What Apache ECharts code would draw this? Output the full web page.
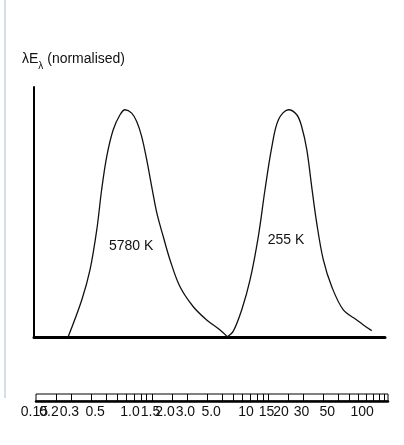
<!DOCTYPE html>
<html><head><meta charset="utf-8">
<script src="https://cdn.jsdelivr.net/npm/echarts@6/dist/echarts.min.js"></script>
<style>html,body{margin:0;padding:0;background:#fff}#c{width:404px;height:445px}</style>
</head><body><div id="c"></div>
<script>
// Wavelength in micrometres, lambda*E_lambda normalised to the peak
const sunWavelength = [0.189,0.248,0.292,0.334,0.368,0.407,0.463,0.530,0.585,0.668,0.738,0.815,0.900,0.994,1.10,1.25,1.43,1.74,2.27,2.96,3.86,4.41];
const sunValue = [0,0.163,0.295,0.471,0.648,0.794,0.912,0.978,1.0,0.985,0.948,0.882,0.780,0.662,0.546,0.442,0.339,0.222,0.133,0.075,0.031,0.004];
const earthWavelength = [4.41,5.02,5.93,7.00,8.25,9.42,10.8,12.3,15.0,17.7,19.5,21.6,23.8,26.3,30.0,35.4,44.6,58.2,66.4,78.4];
const earthValue = [0,0.026,0.119,0.251,0.442,0.648,0.838,0.956,1.0,0.978,0.926,0.824,0.662,0.501,0.339,0.222,0.119,0.075,0.053,0.028];
const tickWavelengths = [0.1,0.15,0.2,0.3,0.4,0.5,0.6,0.7,0.8,0.9,1,1.5,2,3,4,5,6,7,8,9,10,15,20,30,40,50,60,70,80,90,100];
const labelWavelengths = [0.1,0.15,0.2,0.3,0.5,1,1.5,2,3,5,10,15,20,30,50,100];
const labelTexts = ['0.1','0.15','0.2','0.3','0.5','1.0','1.5','2.0','3.0','5.0','10','15','20','30','50','100'];
const curveNames = ['5780 K','255 K'];

const lg = Math.log10;
const FONT = '"Liberation Sans Narrow", "Liberation Sans", Arial, sans-serif';
const toPairs = (xs, ys) => xs.map((x, i) => [lg(x), ys[i]]);
const labelLogs = labelWavelengths.map(lg);
function labelFor(v) {
  let best = 0, d = Infinity;
  labelLogs.forEach((l, i) => { const dd = Math.abs(l - v); if (dd < d) { d = dd; best = i; } });
  return labelTexts[best];
}

const chart = echarts.init(document.getElementById('c'), null, {renderer: 'canvas'});
chart.setOption({
  animation: false,
  backgroundColor: '#fff',
  title: {
    left: 17, top: 47,
    text: '{a|λE}{s|λ}{a| (normalised)}',
    textStyle: {
      fontWeight: 'normal',
      rich: {
        a: {fontFamily: FONT, fontSize: 14, fontWeight: 'normal', color: '#111', verticalAlign: 'top', lineHeight: 16},
        s: {fontFamily: FONT, fontSize: 10, fontWeight: 'normal', color: '#111', verticalAlign: 'top', padding: [9, 0, 0, 0]}
      }
    }
  },
  graphic: [{
    type: 'line', silent: true,
    shape: {x1: 5, y1: 0, x2: 5, y2: 398},
    style: {stroke: '#a9bdcf', lineWidth: 1}
  }],
  grid: [
    {left: 34, top: 87, width: 351, height: 250},
    {left: 36, top: 394, width: 352, height: 7, show: true, borderColor: '#000', borderWidth: 1, backgroundColor: 'transparent'}
  ],
  xAxis: [
    {
      type: 'value', gridIndex: 0, min: lg(0.0961), max: lg(102),
      axisLine: {show: true, onZero: false, lineStyle: {color: '#000', width: 3}},
      axisTick: {show: false}, axisLabel: {show: false}, splitLine: {show: false}
    },
    {
      type: 'value', gridIndex: 1, min: lg(0.1), max: lg(108),
      axisLine: {show: true, onZero: false, lineStyle: {color: '#000', width: 2.5}},
      axisTick: {show: true, inside: true, length: 7, lineStyle: {color: '#000', width: 1},
        customValues: tickWavelengths.map(lg)},
      axisLabel: {show: true, customValues: labelLogs, formatter: labelFor, hideOverlap: false,
        fontFamily: FONT, fontSize: 14, color: '#111', margin: 4, align: 'center', padding: [0, 44, 0, 0]},
      splitLine: {show: false}
    }
  ],
  yAxis: [
    {
      type: 'value', gridIndex: 0, min: 0, max: 1.1,
      axisLine: {show: true, onZero: false, lineStyle: {color: '#000', width: 2}},
      axisTick: {show: false}, axisLabel: {show: false}, splitLine: {show: false}
    },
    {
      type: 'value', gridIndex: 1, min: 0, max: 1,
      axisLine: {show: false}, axisTick: {show: false}, axisLabel: {show: false}, splitLine: {show: false}
    }
  ],
  series: [
    {
      name: curveNames[0], type: 'line', xAxisIndex: 0, yAxisIndex: 0,
      data: toPairs(sunWavelength, sunValue), smooth: 0.35, symbol: 'none',
      lineStyle: {color: '#111', width: 1.3},
      markPoint: {
        symbol: 'circle', symbolSize: 0,
        label: {show: true, position: 'inside', formatter: curveNames[0], fontFamily: FONT, fontSize: 14, color: '#111'},
        data: [{coord: [lg(0.66), 0.40]}]
      }
    },
    {
      name: curveNames[1], type: 'line', xAxisIndex: 0, yAxisIndex: 0,
      data: toPairs(earthWavelength, earthValue), smooth: 0.35, symbol: 'none',
      lineStyle: {color: '#111', width: 1.3},
      markPoint: {
        symbol: 'circle', symbolSize: 0,
        label: {show: true, position: 'inside', formatter: curveNames[1], fontFamily: FONT, fontSize: 14, color: '#111'},
        data: [{coord: [lg(14.3), 0.427]}]
      }
    }
  ]
});
</script>
</body></html>
